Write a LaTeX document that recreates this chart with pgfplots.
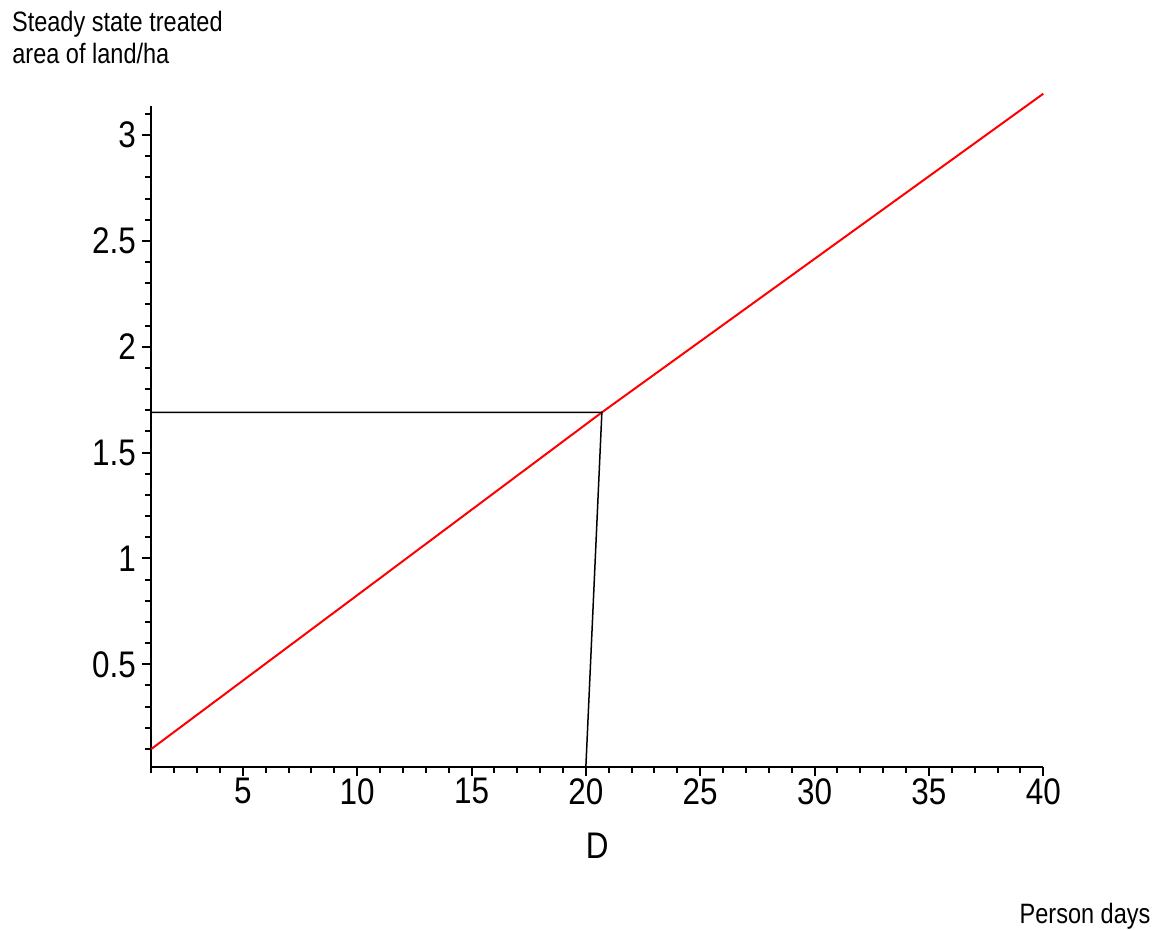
\documentclass[border=0pt]{standalone}
\usepackage{fontspec}
\setmainfont{Liberation Sans}[FakeStretch=0.84]
\newfontfamily\tickfont{Liberation Sans}[FakeStretch=0.85]
\usepackage{pgfplots}
\pgfplotsset{compat=1.18}
\begin{document}
\begin{tikzpicture}
\path[use as bounding box] (-75.65pt,-81.5pt) rectangle (502.85pt,383.5pt);
\begin{axis}[
  at={(0pt,0pt)}, anchor=south west,
  scale only axis, width=446pt, height=330.5pt,
  xmin=1, xmax=40, ymin=0.015, ymax=3.137,
  axis lines=left, axis line style={-, line width=1pt},
  clip=false,
  xtick={5,10,15,20,25,30,35,40}, ytick={0.5,1,1.5,2,2.5,3},
  minor xtick={1,2,3,4,6,7,8,9,11,12,13,14,16,17,18,19,21,22,23,24,26,27,28,29,31,32,33,34,36,37,38,39},
  minor ytick={0.1,0.2,0.3,0.4,0.6,0.7,0.8,0.9,1.1,1.2,1.3,1.4,1.6,1.7,1.8,1.9,2.1,2.2,2.3,2.4,2.6,2.7,2.8,2.9,3.1},
  tick align=outside, tick style={line width=1pt, black},
  major tick length=4.5pt, minor tick length=3pt,
  /pgf/number format/assume math mode=true,
  ticklabel style={font=\tickfont\fontsize{18.5}{20}\selectfont},
  xticklabel style={inner sep=1pt},
  yticklabel style={inner sep=3pt},
  xlabel={D},
  xlabel style={font=\tickfont\fontsize{18.5}{20}\selectfont, at={(axis description cs:0.5,0)}, anchor=base, yshift=-45.65pt},
]
\addplot[red, line width=1pt] coordinates {(1,0.10) (10,0.826) (20.7,1.69) (30,2.415) (40,3.195)};
\addplot[black, line width=0.75pt] coordinates {(1,1.69) (20.7,1.69) (20,0.015)};
\end{axis}
\node[anchor=base west, inner sep=0pt, font=\fontsize{14}{16}\selectfont] at (-69.8pt,367.65pt) {Steady state treated};
\node[anchor=base west, inner sep=0pt, font=\fontsize{14}{16}\selectfont] at (-69.65pt,351.65pt) {area of land/ha};
\node[anchor=base west, inner sep=0pt, font=\fontsize{14}{16}\selectfont] at (434pt,-78.15pt) {Person days};
\end{tikzpicture}
\end{document}
